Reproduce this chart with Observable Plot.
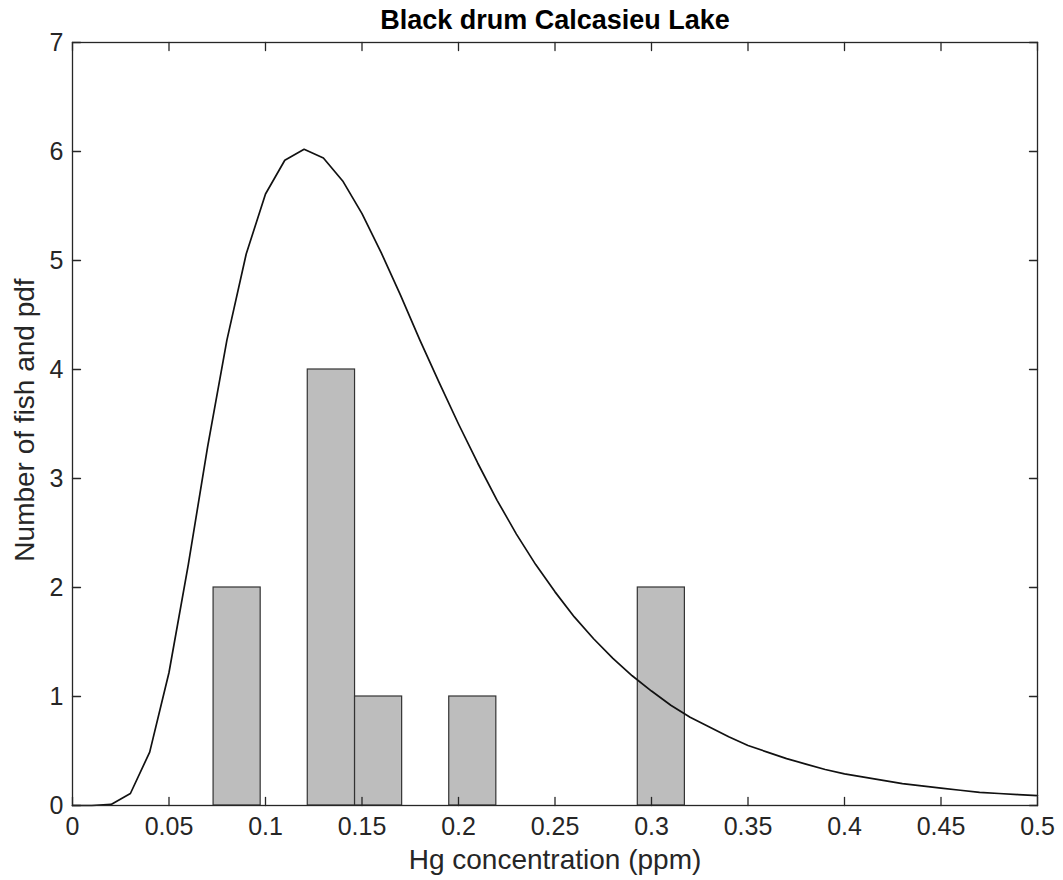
<!DOCTYPE html>
<html><head><meta charset="utf-8">
<script src="https://cdn.jsdelivr.net/npm/d3@7"></script>
<script src="https://cdn.jsdelivr.net/npm/@observablehq/plot@0.6"></script>
<style>body{margin:0;background:#fff;}</style>
</head><body><div id="chart"></div>
<script>
const title = "Black drum Calcasieu Lake";
const xLabel = "Hg concentration (ppm)";
const yLabel = "Number of fish and pdf";

// histogram bins (edges) and counts
const binLo = [0.0731, 0.0975, 0.1219, 0.1464, 0.1708, 0.1952, 0.2196, 0.2441, 0.2685, 0.2929];
const binHi = [0.0975, 0.1219, 0.1464, 0.1708, 0.1952, 0.2196, 0.2441, 0.2685, 0.2929, 0.3173];
const counts = [2, 0, 4, 1, 0, 1, 0, 0, 0, 2];

// pdf curve points
const pdfX = [0, 0.01, 0.02, 0.03, 0.04, 0.05, 0.06, 0.07, 0.08, 0.09, 0.10,
  0.11, 0.12, 0.13, 0.14, 0.15, 0.16, 0.17, 0.18, 0.19, 0.20,
  0.21, 0.22, 0.23, 0.24, 0.25, 0.26, 0.27, 0.28, 0.29, 0.30,
  0.31, 0.32, 0.33, 0.34, 0.35, 0.36, 0.37, 0.38, 0.39, 0.40,
  0.41, 0.42, 0.43, 0.44, 0.45, 0.46, 0.47, 0.48, 0.49, 0.50];
const pdfY = [0, 0, 0.01, 0.11, 0.49, 1.22, 2.21, 3.29, 4.27, 5.06, 5.61,
  5.92, 6.02, 5.94, 5.73, 5.43, 5.07, 4.68, 4.27, 3.88, 3.50,
  3.14, 2.80, 2.49, 2.21, 1.96, 1.73, 1.53, 1.35, 1.19, 1.05,
  0.92, 0.81, 0.72, 0.63, 0.55, 0.49, 0.43, 0.38, 0.33, 0.29,
  0.26, 0.23, 0.20, 0.18, 0.16, 0.14, 0.12, 0.11, 0.10, 0.09];

const xTicks = [0, 0.05, 0.1, 0.15, 0.2, 0.25, 0.3, 0.35, 0.4, 0.45, 0.5];
const yTicks = [0, 1, 2, 3, 4, 5, 6, 7];

const bins = binLo.map((lo, i) => ({lo, hi: binHi[i], n: counts[i]}));
const pdf = pdfX.map((x, i) => ({x, y: pdfY[i]}));

const ink = "#262626";
const font = "'Liberation Sans', Arial, Helvetica, sans-serif";
const tickShape = {draw(ctx, l) { ctx.moveTo(0, 0); ctx.lineTo(0, -l); }};
const fmt = d => String(+d.toFixed(2));

const chart = Plot.plot({
  width: 1063,
  height: 880,
  marginLeft: 72,
  marginRight: 26,
  marginTop: 42,
  marginBottom: 75,
  style: {fontFamily: font, color: ink, background: "#fff", overflow: "visible"},
  x: {domain: [0, 0.5], axis: null},
  y: {domain: [0, 7], axis: null},
  marks: [
    Plot.rect(bins, {x1: "lo", x2: "hi", y1: 0, y2: "n", fill: "#bdbdbd", stroke: "#333", strokeWidth: 1.2}),
    Plot.line(pdf, {x: "x", y: "y", stroke: "#111", strokeWidth: 1.7}),
    Plot.frame({stroke: ink, strokeWidth: 1.3}),
    Plot.vector(xTicks, {x: d => d, frameAnchor: "bottom", length: 8, rotate: 0, anchor: "start", shape: tickShape, stroke: ink, strokeWidth: 1.3}),
    Plot.vector(xTicks, {x: d => d, frameAnchor: "top", length: 8, rotate: 180, anchor: "start", shape: tickShape, stroke: ink, strokeWidth: 1.3}),
    Plot.vector(yTicks, {y: d => d, frameAnchor: "left", length: 8, rotate: 90, anchor: "start", shape: tickShape, stroke: ink, strokeWidth: 1.3}),
    Plot.vector(yTicks, {y: d => d, frameAnchor: "right", length: 8, rotate: -90, anchor: "start", shape: tickShape, stroke: ink, strokeWidth: 1.3}),
    Plot.axisX(xTicks, {tickSize: 0, tickPadding: 12, fontSize: 25, label: null, tickFormat: fmt, fill: ink}),
    Plot.axisY(yTicks, {tickSize: 0, tickPadding: 9, fontSize: 25, label: null, tickFormat: fmt, fill: ink}),
    Plot.text([xLabel], {text: d => d, frameAnchor: "bottom", dy: 63, fontSize: 28, fill: ink}),
    Plot.text([yLabel], {text: d => d, frameAnchor: "left", textAnchor: "middle", dx: -47, dy: -4, rotate: -90, fontSize: 28, fill: ink}),
    Plot.text([title], {text: d => d, frameAnchor: "top", dy: -33, fontSize: 27, fontWeight: "bold", fill: "#000"})
  ]
});
document.getElementById("chart").append(chart);
</script>
</body></html>
